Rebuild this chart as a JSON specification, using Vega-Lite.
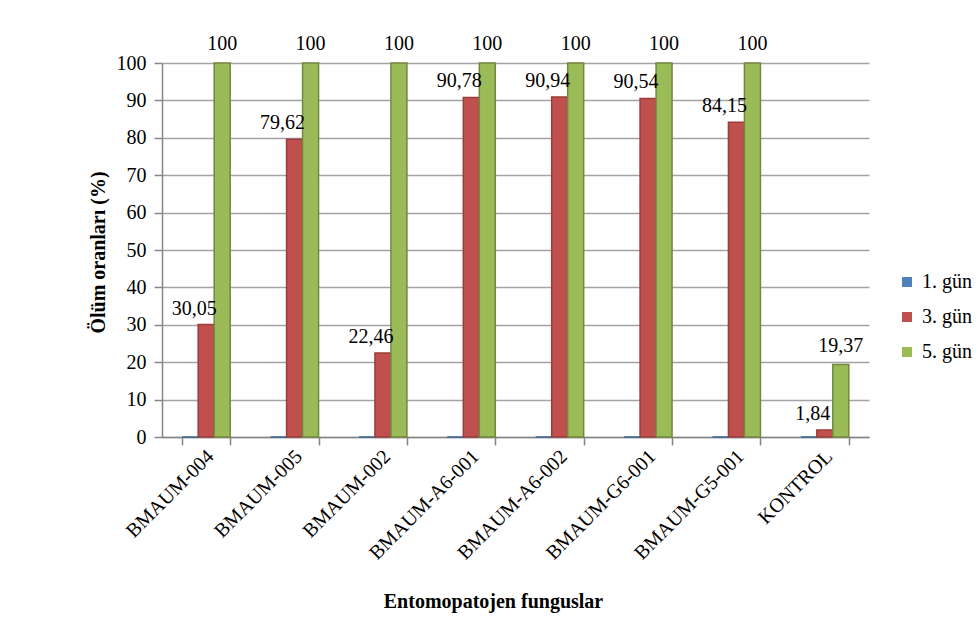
{
  "$schema": "https://vega.github.io/schema/vega-lite/v6.json",
  "width": 707,
  "height": 374,
  "autosize": {"type": "none"},
  "padding": {"left": 162, "top": 63, "right": 109, "bottom": 193},
  "background": "white",
  "config": {
    "font": "Liberation Serif",
    "view": {"stroke": null},
    "locale": {"number": {"decimal": ",", "thousands": ".", "grouping": [3], "currency": ["", ""]}},
    "axis": {"labelFont": "Liberation Serif", "titleFont": "Liberation Serif", "labelColor": "#000000", "titleColor": "#000000"},
    "legend": {"labelFont": "Liberation Serif"}
  },
  "data": {
    "values": [
      {"fungus": "BMAUM-004", "gun": "1. gün", "oran": 0},
      {"fungus": "BMAUM-004", "gun": "3. gün", "oran": 30.05},
      {"fungus": "BMAUM-004", "gun": "5. gün", "oran": 100},
      {"fungus": "BMAUM-005", "gun": "1. gün", "oran": 0},
      {"fungus": "BMAUM-005", "gun": "3. gün", "oran": 79.62},
      {"fungus": "BMAUM-005", "gun": "5. gün", "oran": 100},
      {"fungus": "BMAUM-002", "gun": "1. gün", "oran": 0},
      {"fungus": "BMAUM-002", "gun": "3. gün", "oran": 22.46},
      {"fungus": "BMAUM-002", "gun": "5. gün", "oran": 100},
      {"fungus": "BMAUM-A6-001", "gun": "1. gün", "oran": 0},
      {"fungus": "BMAUM-A6-001", "gun": "3. gün", "oran": 90.78},
      {"fungus": "BMAUM-A6-001", "gun": "5. gün", "oran": 100},
      {"fungus": "BMAUM-A6-002", "gun": "1. gün", "oran": 0},
      {"fungus": "BMAUM-A6-002", "gun": "3. gün", "oran": 90.94},
      {"fungus": "BMAUM-A6-002", "gun": "5. gün", "oran": 100},
      {"fungus": "BMAUM-G6-001", "gun": "1. gün", "oran": 0},
      {"fungus": "BMAUM-G6-001", "gun": "3. gün", "oran": 90.54},
      {"fungus": "BMAUM-G6-001", "gun": "5. gün", "oran": 100},
      {"fungus": "BMAUM-G5-001", "gun": "1. gün", "oran": 0},
      {"fungus": "BMAUM-G5-001", "gun": "3. gün", "oran": 84.15},
      {"fungus": "BMAUM-G5-001", "gun": "5. gün", "oran": 100},
      {"fungus": "KONTROL", "gun": "1. gün", "oran": 0},
      {"fungus": "KONTROL", "gun": "3. gün", "oran": 1.84},
      {"fungus": "KONTROL", "gun": "5. gün", "oran": 19.37}
    ]
  },
  "encoding": {
    "x": {
      "field": "fungus",
      "type": "nominal",
      "sort": null,
      "scale": {"paddingInner": 0.457, "paddingOuter": 0.2285},
      "axis": {
        "title": "Entomopatojen funguslar",
        "titleFontSize": 20,
        "titleFontWeight": "bold",
        "titleX": 331,
        "titleY": 170,
        "titleAlign": "center",
        "titleBaseline": "alphabetic",
        "labelAngle": -45,
        "labelAlign": "right",
        "labelBaseline": "middle",
        "labelFontSize": 20,
        "labelPadding": 8,
        "labelOffset": 4,
        "tickBand": "extent",
        "tickSize": 8,
        "tickColor": "#868686",
        "tickWidth": 1.5,
        "domainColor": "#868686",
        "domainWidth": 1.5,
        "grid": false
      }
    },
    "xOffset": {"field": "gun", "type": "nominal", "sort": null, "scale": {"paddingInner": 0}},
    "y": {
      "field": "oran",
      "type": "quantitative",
      "scale": {"domain": [0, 100], "nice": false},
      "axis": {
        "title": "Ölüm oranları (%)",
        "titleFontSize": 20,
        "titleFontWeight": "bold",
        "titleX": -64,
        "titleY": 189,
        "titleAngle": -90,
        "titleAlign": "center",
        "titleBaseline": "middle",
        "values": [0, 10, 20, 30, 40, 50, 60, 70, 80, 90, 100],
        "labelFontSize": 20,
        "labelPadding": 8,
        "tickSize": 8,
        "tickColor": "#868686",
        "tickWidth": 1.5,
        "domainColor": "#868686",
        "domainWidth": 1.5,
        "grid": true,
        "gridColor": "#a3a3a3",
        "gridWidth": 1.5
      }
    }
  },
  "layer": [
    {
      "mark": {"type": "bar", "strokeWidth": 1.5},
      "encoding": {
        "fill": {
          "field": "gun",
          "type": "nominal",
          "sort": null,
          "scale": {"domain": ["1. gün", "3. gün", "5. gün"], "range": ["#4F81BD", "#C0504D", "#9BBB59"]},
          "legend": {
            "title": null,
            "orient": "none",
            "legendX": 735,
            "legendY": 209,
            "symbolType": "square",
            "symbolSize": 100,
            "symbolStrokeWidth": 0,
            "labelFontSize": 20,
            "labelColor": "#000000",
            "labelOffset": 5,
            "rowPadding": 15
          }
        },
        "stroke": {
          "field": "gun",
          "type": "nominal",
          "sort": null,
          "scale": {"domain": ["1. gün", "3. gün", "5. gün"], "range": ["#3A6496", "#9C3C3A", "#71893F"]},
          "legend": null
        }
      }
    },
    {
      "transform": [{"filter": "datum.gun === '3. gün'"}],
      "mark": {"type": "text", "dx": -12, "dy": -10, "baseline": "alphabetic", "fontSize": 20, "color": "#000000"},
      "encoding": {"text": {"field": "oran", "type": "quantitative", "format": ".2~f"}}
    },
    {
      "transform": [{"filter": "datum.gun === '5. gün'"}],
      "mark": {"type": "text", "dx": 0, "dy": -13, "baseline": "alphabetic", "fontSize": 20, "color": "#000000"},
      "encoding": {"text": {"field": "oran", "type": "quantitative", "format": ".2~f"}}
    }
  ]
}
